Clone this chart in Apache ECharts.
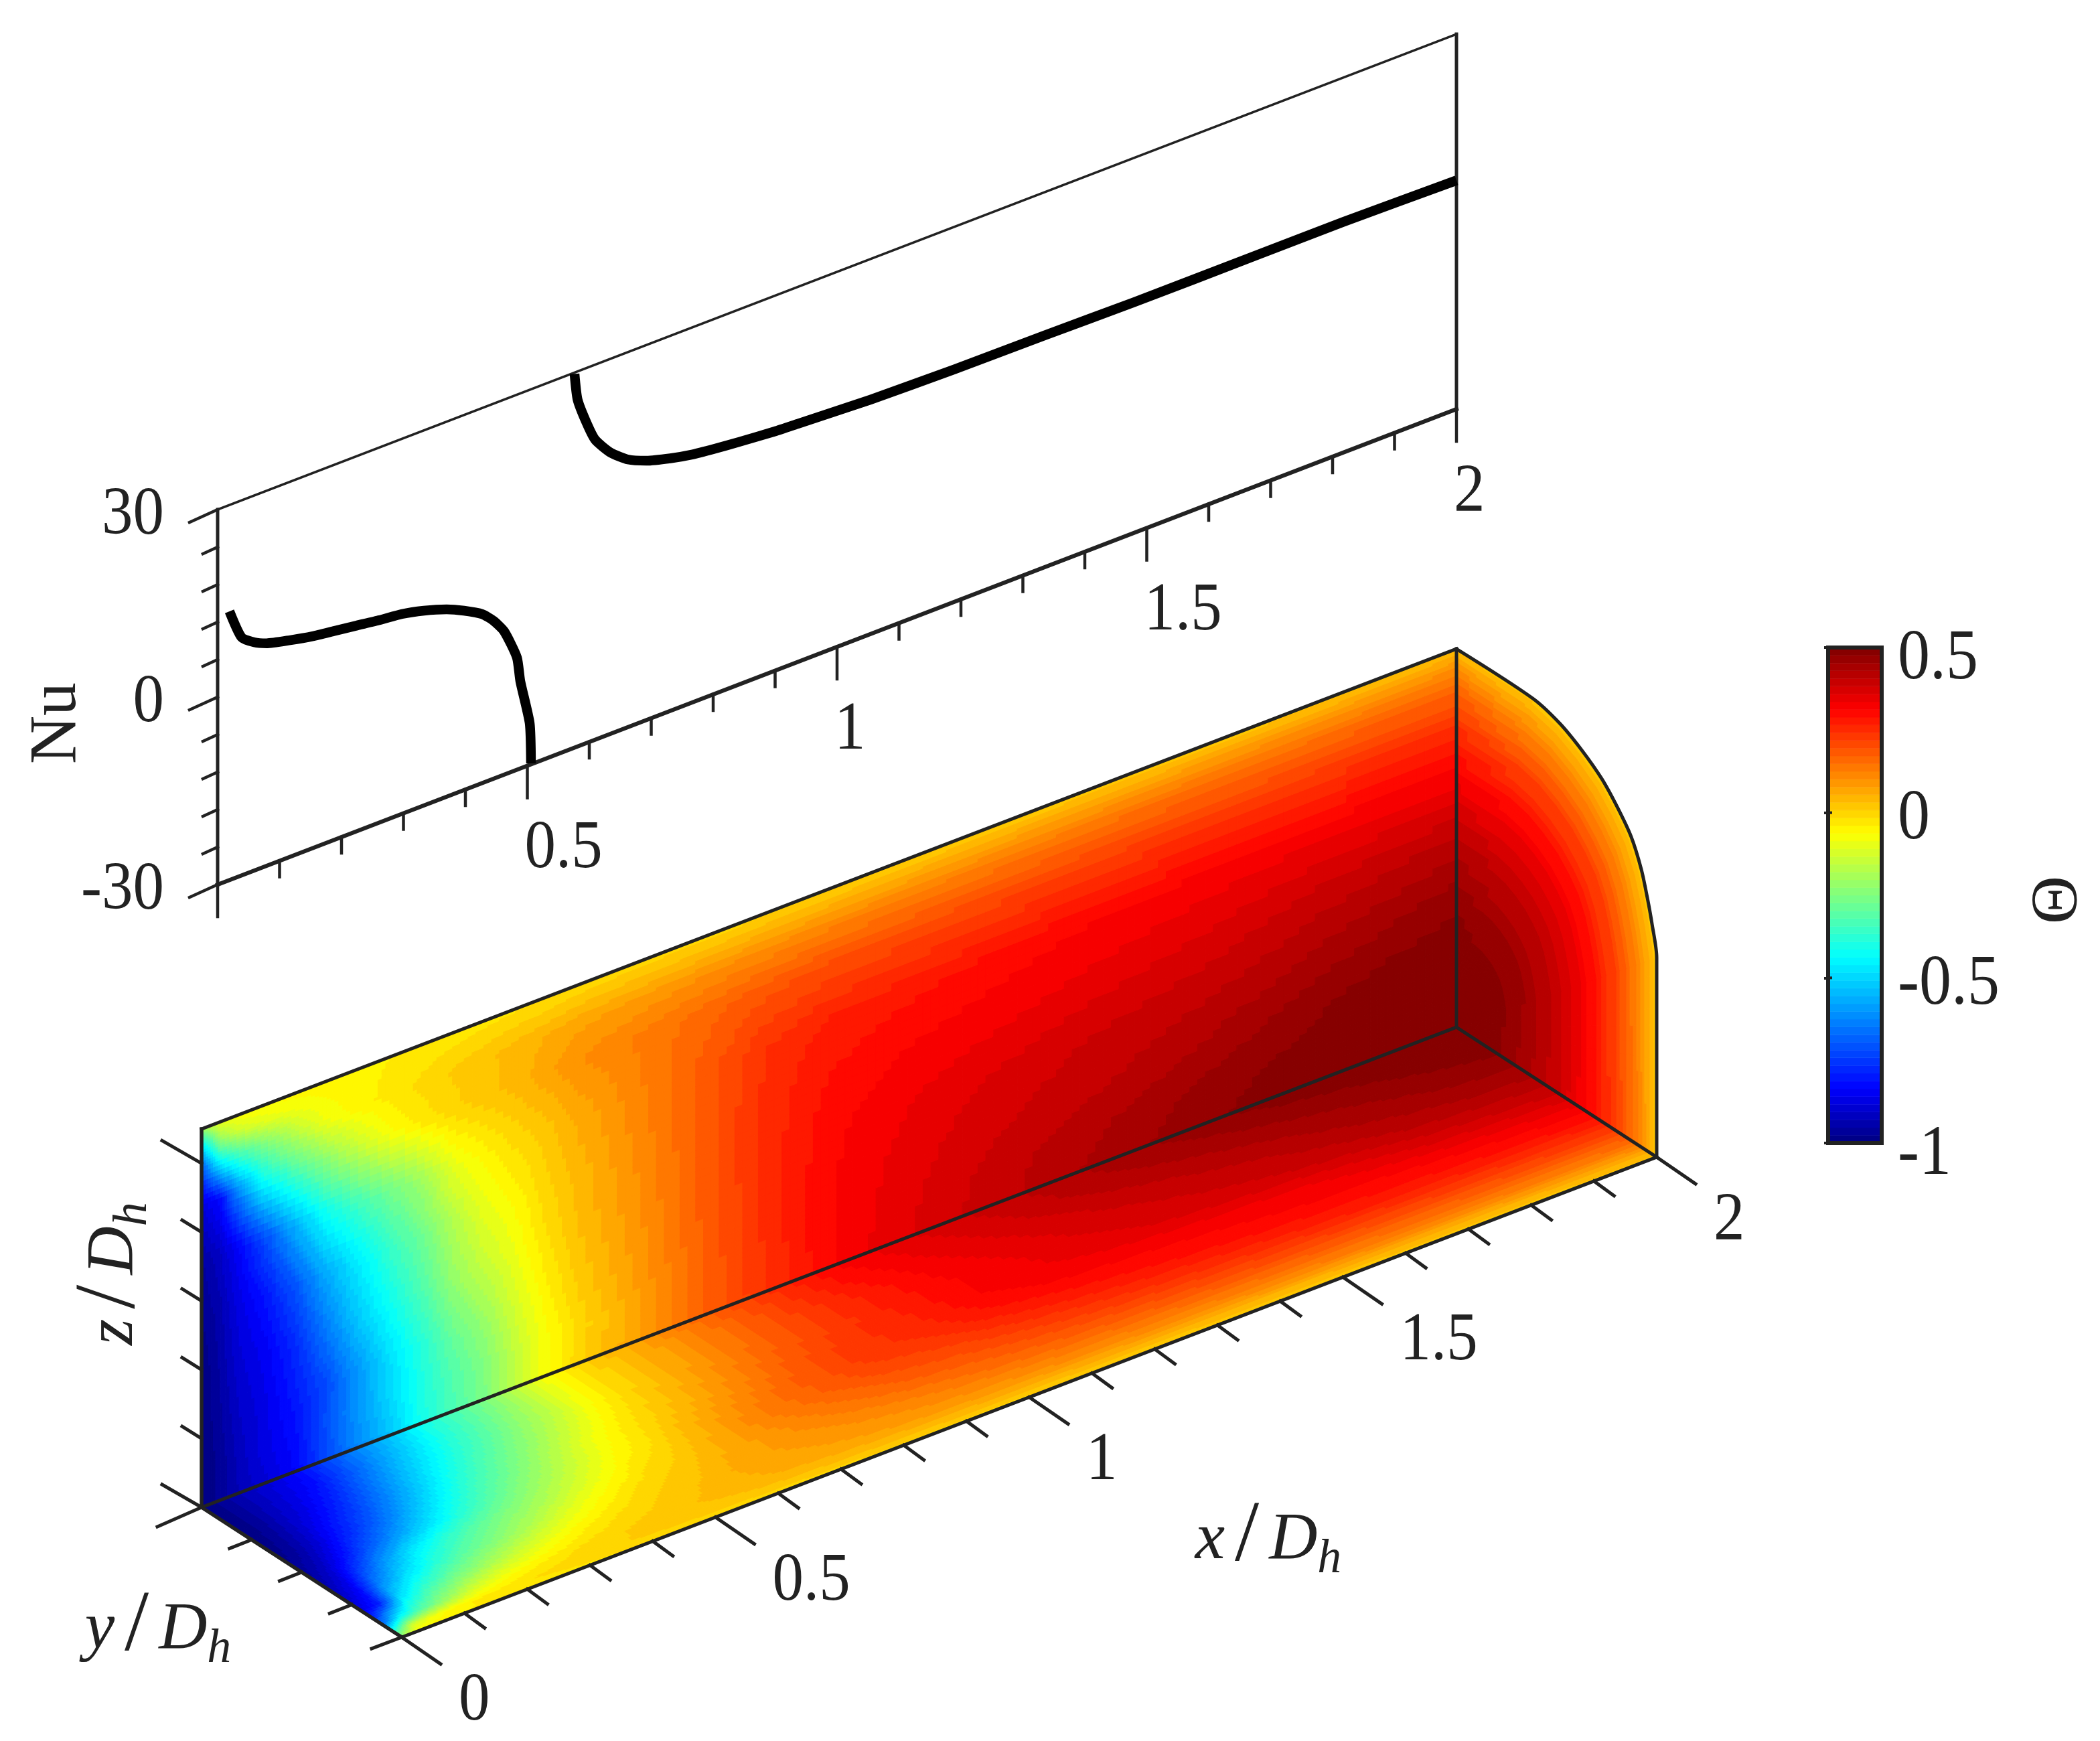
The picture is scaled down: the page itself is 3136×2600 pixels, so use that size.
<!DOCTYPE html>
<html><head><meta charset="utf-8">
<script src="https://cdn.jsdelivr.net/npm/echarts@6/dist/echarts.min.js"></script>
<style>html,body{margin:0;padding:0;background:#fff}#c{width:3136px;height:2600px}</style>
</head><body><div id="c"></div>
<script>
// ---------- data ----------
const nuLeftX=[.0191,.0386,.0595,.0789,.1168,.1535,.1892,.2249,.2616,.2973,.333,.3697,.3978,.427,.4454,.4627,.4832,.4886,.5038,.5059];
const nuLeftV=[12.99,8.1,6.49,5.6,4.66,3.9,3.4,2.9,2.37,1.98,1.16,-.02,-1.31,-2.96,-4.73,-7.1,-12.05,-16.02,-23.35,-29.85];
const nuRightX=[.5762,.5811,.5957,.6097,.6346,.6627,.6919,.7308,.7643,.8032,.8422,.8995,.9384,1.054,1.189,1.334,1.479,1.672,1.817,2];
const nuRightV=[29.8,25.5,21.2,17.96,14.97,12.8,11.5,10.4,9.7,9.2,8.8,8.3,8.1,7.5,7.2,7.1,6.9,6.9,6.9,6.6];

const xColumns=[0,.03,.06,.1,.15,.2,.25,.3,.35,.4,.45,.5,.55,.6,.7,.8,.9,1,1.1,1.2,1.3,1.4,1.5,1.6,1.7,1.8,1.9,2];
const wallRows=[0,.1,.2,.35,.5,.65,.8,.9,.96,1];
const wallField=[
[-1,-.97,-.93,-.89,-.835,-.72,-.62,-.53,-.41,-.33,-.26,-.15,-.07,0,.08,.17,.24,.31,.35,.38,.405,.43,.45,.47,.49,.5,.5,.5],
[-1,-.97,-.92,-.87,-.82,-.71,-.6,-.5,-.4,-.32,-.25,-.15,-.07,-.01,.08,.17,.245,.31,.345,.375,.4,.42,.44,.46,.475,.49,.5,.5],
[-1,-.96,-.91,-.87,-.8,-.72,-.6,-.49,-.39,-.29,-.22,-.13,-.05,.01,.09,.175,.25,.31,.34,.365,.385,.4,.415,.435,.455,.475,.49,.5],
[-1,-.95,-.89,-.85,-.77,-.64,-.52,-.42,-.33,-.22,-.15,-.09,-.02,.03,.1,.18,.25,.305,.33,.35,.365,.38,.39,.4,.415,.435,.45,.465],
[-.98,-.94,-.87,-.81,-.7,-.56,-.46,-.36,-.28,-.18,-.1,-.055,0,.04,.11,.18,.25,.29,.31,.32,.33,.34,.35,.36,.375,.39,.4,.41],
[-.96,-.91,-.84,-.72,-.56,-.42,-.34,-.27,-.2,-.1,-.05,-.01,.02,.06,.12,.18,.24,.27,.28,.29,.3,.31,.315,.32,.325,.33,.33,.33],
[-.88,-.82,-.62,-.43,-.32,-.22,-.14,-.07,-.03,0,.02,.04,.07,.1,.13,.16,.185,.2,.205,.21,.215,.22,.225,.23,.23,.235,.24,.24],
[-.7,-.42,-.33,-.25,-.16,-.08,-.05,-.03,-.01,.01,.025,.04,.055,.07,.085,.1,.11,.12,.125,.13,.135,.14,.145,.15,.15,.155,.16,.16],
[-.45,-.2,-.13,-.1,-.08,-.06,-.05,-.035,-.025,-.015,-.005,.005,.01,.02,.03,.035,.045,.05,.055,.06,.065,.07,.07,.075,.08,.08,.085,.09],
[-.2,-.1,-.07,-.06,-.055,-.05,-.045,-.04,-.035,-.03,-.025,-.02,-.015,-.01,-.005,0,0,.005,.005,.01,.01,.015,.015,.02,.02,.02,.025,.03]
];
const floorRows=[0,.1,.2,.3,.4,.5,.6,.7,.8,.9,.96,1];
const floorField=[
[-1,-.97,-.93,-.89,-.835,-.72,-.62,-.53,-.41,-.33,-.26,-.15,-.07,0,.08,.17,.24,.31,.35,.38,.405,.43,.45,.47,.49,.5,.5,.5],
[-1,-.97,-.93,-.88,-.82,-.71,-.6,-.5,-.4,-.32,-.24,-.16,-.07,-.01,.07,.15,.23,.295,.335,.365,.395,.42,.435,.45,.465,.475,.49,.5],
[-1,-.97,-.92,-.87,-.78,-.67,-.56,-.46,-.37,-.3,-.22,-.15,-.07,-.01,.07,.15,.22,.275,.32,.35,.375,.395,.41,.425,.44,.455,.47,.48],
[-1,-.96,-.91,-.83,-.74,-.63,-.52,-.41,-.33,-.26,-.19,-.12,-.05,0,.08,.16,.22,.27,.31,.335,.36,.375,.39,.4,.42,.435,.45,.455],
[-.99,-.95,-.89,-.79,-.69,-.57,-.46,-.36,-.29,-.22,-.15,-.08,-.03,.01,.09,.17,.23,.26,.31,.33,.345,.36,.37,.38,.39,.41,.42,.425],
[-.97,-.92,-.84,-.72,-.6,-.49,-.39,-.31,-.24,-.18,-.12,-.06,-.02,.03,.11,.18,.23,.25,.29,.31,.315,.32,.325,.33,.35,.37,.38,.39],
[-.95,-.88,-.74,-.6,-.46,-.37,-.3,-.24,-.19,-.13,-.08,-.03,0,.04,.12,.17,.205,.22,.25,.27,.285,.295,.305,.31,.31,.32,.33,.34],
[-.92,-.83,-.63,-.5,-.38,-.3,-.24,-.18,-.12,-.07,-.03,0,.02,.05,.1,.14,.17,.185,.205,.225,.24,.25,.26,.27,.275,.28,.285,.29],
[-.88,-.78,-.5,-.36,-.27,-.2,-.14,-.09,-.05,-.02,0,.02,.035,.06,.085,.105,.125,.145,.16,.17,.18,.19,.195,.2,.205,.21,.215,.22],
[-.7,-.44,-.32,-.22,-.12,-.07,-.04,-.02,0,.01,.02,.03,.04,.05,.065,.075,.085,.09,.1,.105,.11,.115,.12,.125,.125,.13,.13,.135],
[-.4,-.13,-.08,-.05,-.03,-.02,-.01,0,.005,.01,.015,.02,.02,.025,.03,.035,.04,.04,.045,.045,.05,.05,.05,.055,.055,.055,.06,.06],
[-.2,-.06,-.05,-.04,-.035,-.03,-.03,-.025,-.02,-.02,-.015,-.015,-.01,-.01,-.005,0,0,0,.005,.005,.01,.01,.01,.015,.015,.015,.02,.02]
];
// cross-section at x = 2: outline (y, z as fractions of the box), radial fractions, values
const endOutlineY=[1,1,1,.976,.953,.923,.873,.806,.726,.625,.515,.381,.2,0];
const endOutlineZ=[0,.26,.527,.61,.67,.7345,.8025,.8556,.9056,.9475,.9805,1,1,1];
const endRadial=[0,.2,.35,.5,.65,.8,.9,.96,1];
const endField=[
[.5,.48,.44,.39,.315,.22,.135,.06,.02],
[.5,.485,.445,.395,.32,.215,.13,.06,.02],
[.5,.49,.45,.4,.32,.21,.12,.06,.02],
[.5,.49,.45,.4,.32,.21,.12,.06,.02],
[.5,.49,.45,.4,.32,.21,.12,.06,.02],
[.5,.49,.45,.4,.32,.21,.12,.06,.02],
[.5,.49,.45,.4,.32,.21,.12,.06,.02],
[.5,.49,.45,.4,.32,.21,.12,.06,.02],
[.5,.49,.45,.4,.32,.21,.12,.06,.02],
[.5,.49,.45,.4,.32,.21,.12,.06,.02],
[.5,.49,.45,.4,.32,.21,.12,.06,.02],
[.5,.49,.45,.4,.32,.21,.125,.065,.02],
[.5,.495,.46,.405,.325,.225,.14,.075,.025],
[.5,.5,.465,.41,.33,.24,.16,.09,.03]
];
const nuTicks=[-30,-24,-18,-12,-6,0,6,12,18,24,30];
const nuMajor=[-30,0,30];
const topXTicks=[0,.1,.2,.3,.4,.5,.6,.7,.8,.9,1,1.1,1.2,1.3,1.4,1.5,1.6,1.7,1.8,1.9,2];
const xMajor=[0,.5,1,1.5,2];
const xTickLabels=['0','0.5','1','1.5','2'];
const yTicks=[0,.25,.5,.75,1];
const zTicks=[0,.1,.2,.3,.4,.5];
const zMax=.55;
const barTicks=[-1,-.5,0,.5];
const jetStops=[[0,'#00007f'],[.11,'#0000ff'],[.375,'#00ffff'],[.625,'#ffff00'],[.875,'#ff0000'],[1,'#7f0000']];
const thetaMin=-1, thetaMax=.5, levels=64;

// ---------- oblique projections to the page scale of the hidden axes ----------
const pTop=(x,nu)=>[325+925*x, 1321-355*x-(nu+30)*560/60];
const pLow=(x,y,z)=>[301+937*x+299*y, 2251-358.5*x+194*y-565*z];
const INK='#222', FONT='"Liberation Serif"';

function hex(s){return [1,3,5].map(i=>parseInt(s.substr(i,2),16));}
const palette=[];
for(let k=0;k<levels;k++){
  const t=(k+.5)/levels; let i=0;
  while(i<jetStops.length-2&&t>jetStops[i+1][0])i++;
  const a=jetStops[i],b=jetStops[i+1],f=(t-a[0])/(b[0]-a[0]);
  const ca=hex(a[1]),cb=hex(b[1]);
  palette.push('rgb('+ca.map((c,n)=>Math.round(c+(cb[n]-c)*f)).join(',')+')');
}
const jet=v=>palette[Math.max(0,Math.min(levels-1,Math.floor((v-thetaMin)/(thetaMax-thetaMin)*levels)))];

// a face of cells: uAt / vAt are the grid lines, field[v][u] the values, place(u,v) the page point
function faceSeries(uAt,vAt,field,place,sub,z){
  const cells=[];
  for(let j=0;j<vAt.length-1;j++)for(let i=0;i<uAt.length-1;i++)cells.push([i,j]);
  return {type:'custom',coordinateSystem:'cartesian2d',xAxisIndex:0,yAxisIndex:0,silent:true,z,animation:false,clip:false,
    data:cells,
    renderItem(p,api){
      const i=api.value(0),j=api.value(1),children=[];
      const u0=uAt[i],u1=uAt[i+1],v0=vAt[j],v1=vAt[j+1];
      const f00=field[j][i],f10=field[j][i+1],f01=field[j+1][i],f11=field[j+1][i+1];
      for(let a=0;a<sub;a++)for(let b=0;b<sub;b++){
        const s=(a+.5)/sub,t=(b+.5)/sub;
        const val=(f00*(1-s)+f10*s)*(1-t)+(f01*(1-s)+f11*s)*t;
        const c=jet(val);
        const ua=u0+(u1-u0)*a/sub,ub=u0+(u1-u0)*(a+1)/sub,va=v0+(v1-v0)*b/sub,vb=v0+(v1-v0)*(b+1)/sub;
        const pts=[place(ua,va),place(ub,va),place(ub,vb),place(ua,vb)].map(q=>api.coord(q));
        children.push({type:'polygon',shape:{points:pts},style:{fill:c,stroke:c,lineWidth:1.2}});
      }
      return {type:'group',children};
    }};
}

// ---------- frame and tick segments ----------
const segs=[];
const seg=(a,b,w)=>segs.push({a,b,w});
// upper plot
seg(pTop(0,-30),pTop(2,-30),6); seg(pTop(0,30),pTop(2,30),3.5);
seg(pTop(0,-30),pTop(0,30),5); seg(pTop(2,-30),pTop(2,30),5);
nuTicks.forEach(n=>{const m=nuMajor.includes(n),a=pTop(0,n);seg(a,[a[0]-(m?42:22),a[1]+(m?19:10)],4.5);});
topXTicks.forEach(x=>{const m=xMajor.includes(x),a=pTop(x,-30);seg(a,[a[0],a[1]+(m?48:24)],4.5);});
// lower box
const lw=5;
seg(pLow(0,0,0),pLow(0,0,1),5.5); seg(pLow(0,0,0),pLow(2,0,0),lw);
seg(pLow(0,0,1),pLow(2,0,1),lw); seg(pLow(0,1,0),pLow(2,1,0),lw);
seg(pLow(0,0,0),pLow(0,1,0),5.5); seg(pLow(2,0,0),pLow(2,1,0),lw);
seg(pLow(2,0,0),pLow(2,0,1),lw);
topXTicks.forEach(x=>{const m=xMajor.includes(x),a=pLow(x,1,0);seg(a,[a[0]+(m?58:30),a[1]+(m?40:22)],lw);});
yTicks.forEach(y=>{const m=y===0,a=pLow(0,y,0);seg(a,[a[0]-(m?66:(y===1?45:33)),a[1]+(m?29:(y===1?17:13))],lw);});
zTicks.forEach(z=>{const m=z===0||z===.5,a=pLow(0,0,z/zMax);seg(a,[a[0]-(m?59:29),a[1]-(m?34:18)],lw);});

// ---------- text ----------
const texts=[];
const txt=(t,p,o)=>texts.push(Object.assign({t,p},o||{}));
nuMajor.forEach(n=>{const a=pTop(0,n);txt(String(n),[a[0]-80,a[1]+9],{align:'right'});});
xMajor.forEach((x,i)=>{if(!i)return;const a=pTop(x,-30);txt(xTickLabels[i],[a[0]-4,a[1]+125],{align:'left'});});
xMajor.forEach((x,i)=>{const a=pLow(x,1,0);txt(xTickLabels[i],[a[0]+85,a[1]+96],{align:'left'});});
txt('Nu',[86,1080],{rot:Math.PI/2,align:'center',scale:1,size:100});
txt('\u0398',[3062,1344],{rot:-Math.PI/2,align:'center',scale:1,size:100});
const baseRich={fontFamily:FONT,fill:INK,verticalAlign:'top'};
const mathRich={a:Object.assign({},baseRich,{fontStyle:'italic',fontSize:100,padding:[20,0,0,0]}),
  b:Object.assign({},baseRich,{fontSize:130,padding:[0,15,0,15]}),
  c:Object.assign({},baseRich,{fontStyle:'italic',fontSize:72,padding:[62,0,0,0]})};
const math=v=>'{a|'+v+'}{b|/}{a|D}{c|h}';
txt(math('x'),[1894,2298],{rich:true,align:'center'});
txt(math('y'),[236,2432],{rich:true,align:'center'});
txt(math('z'),[168,1902],{rich:true,align:'center',rot:Math.PI/2});

// ---------- chart ----------
const levelRows=palette.map((_,k)=>[k]);
const chart=echarts.init(document.getElementById('c'),null,{renderer:'canvas',devicePixelRatio:1,width:3136,height:2600});
const curve=(xs,vs)=>({type:'line',xAxisIndex:0,yAxisIndex:0,silent:true,symbol:'none',z:12,animation:false,smooth:.2,
  lineStyle:{color:'#000',width:14.5,join:'round',cap:'butt'},data:xs.map((x,i)=>pTop(x,vs[i]))});
const edgeRows=endOutlineY.map((y,i)=>pLow(2,y,endOutlineZ[i])).slice(2,12);
chart.setOption({
  animation:false,backgroundColor:'#fff',tooltip:{show:false},
  grid:[{left:0,top:0,width:3136,height:2600,show:false},
        {left:2730,top:967,width:80,height:740,show:false}],
  xAxis:[{type:'value',gridIndex:0,min:0,max:3136,show:false},
         {type:'value',gridIndex:1,min:0,max:1,show:false}],
  yAxis:[{type:'value',gridIndex:0,min:0,max:2600,inverse:true,show:false},
         {type:'value',gridIndex:1,min:thetaMin,max:thetaMax,interval:.5,position:'right',z:30,
          splitLine:{show:false},axisLine:{show:false},
          axisTick:{show:true,inside:true,length:6,lineStyle:{color:INK,width:4}},
          axisLabel:{show:false}}],
  series:[
    faceSeries(xColumns,wallRows,wallField,(x,z)=>pLow(x,0,z),8,2),
    faceSeries(xColumns,floorRows,floorField,(x,y)=>pLow(x,y,0),8,3),
    faceSeries(endRadial,endOutlineY.map((_,i)=>i),endField,(s,i)=>{
      const k=Math.min(Math.floor(i),endOutlineY.length-2),f=i-k;
      const y=endOutlineY[k]+(endOutlineY[k+1]-endOutlineY[k])*f, z=endOutlineZ[k]+(endOutlineZ[k+1]-endOutlineZ[k])*f;
      return pLow(2,y*s,z*s);},6,4),
    curve(nuLeftX,nuLeftV),curve(nuRightX,nuRightV),
    {type:'line',xAxisIndex:0,yAxisIndex:0,silent:true,symbol:'none',z:10,animation:false,smooth:.3,
      lineStyle:{color:INK,width:lw,cap:'round'},
      data:[pLow(2,1,0)].concat(edgeRows,[pLow(2,0,1)])},
    {type:'custom',coordinateSystem:'cartesian2d',xAxisIndex:0,yAxisIndex:0,silent:true,z:10,animation:false,clip:false,
      data:segs.map((_,i)=>[i,0]),
      renderItem(p,api){const s=segs[api.value(0)],a=api.coord(s.a),b=api.coord(s.b);
        return {type:'line',shape:{x1:a[0],y1:a[1],x2:b[0],y2:b[1]},style:{stroke:INK,lineWidth:s.w,lineCap:'square'}};}},
    {type:'custom',coordinateSystem:'cartesian2d',xAxisIndex:0,yAxisIndex:0,silent:true,z:20,animation:false,clip:false,
      data:texts.map((_,i)=>[i,0]),
      renderItem(p,api){const s=texts[api.value(0)],a=api.coord(s.p);
        return {type:'text',x:a[0],y:a[1],rotation:s.rot||0,scaleY:s.rich?1:(s.scale||1.1),
          style:s.rich?{x:0,y:0,text:s.t,rich:mathRich,align:s.align,verticalAlign:'middle'}
            :{x:0,y:0,text:s.t,fill:INK,font:(s.size||93)+'px '+FONT,align:s.align,verticalAlign:'middle'}};}},
    // colour bar
    {type:'custom',coordinateSystem:'cartesian2d',xAxisIndex:1,yAxisIndex:1,silent:true,z:5,animation:false,
      data:levelRows,
      renderItem(p,api){const k=api.value(0),d=(thetaMax-thetaMin)/levels,v=thetaMin+k*d;
        const a=api.coord([0,v+d]),b=api.coord([1,v]);
        return {type:'rect',shape:{x:a[0],y:a[1],width:b[0]-a[0],height:b[1]-a[1]},style:{fill:palette[k],stroke:palette[k],lineWidth:.6}};}},
    {type:'custom',coordinateSystem:'cartesian2d',xAxisIndex:1,yAxisIndex:1,silent:true,z:6,animation:false,
      data:[[0]],
      renderItem(p,api){const a=api.coord([0,thetaMax]),b=api.coord([1,thetaMin]);
        const ticks=[-.5,0].map(v=>{const q=api.coord([0,v]);
          return {type:'line',shape:{x1:q[0],y1:q[1],x2:q[0]+6,y2:q[1]},style:{stroke:INK,lineWidth:4}};});
        return {type:'group',children:[{type:'rect',shape:{x:a[0],y:a[1],width:b[0]-a[0],height:b[1]-a[1]},style:{fill:'none',stroke:INK,lineWidth:6}}].concat(ticks)};}},
    {type:'custom',coordinateSystem:'cartesian2d',xAxisIndex:1,yAxisIndex:1,silent:true,z:20,animation:false,clip:false,
      data:barTicks.map(v=>[1,v]),
      renderItem(p,api){const v=api.value(1),q=api.coord([1,v]),end=v===thetaMin||v===thetaMax;
        return {type:'text',x:q[0]+24,y:q[1]+(end?18:11),scaleY:1.1,
          style:{x:0,y:0,text:String(v),fill:INK,font:'96px '+FONT,align:'left',verticalAlign:'middle'}};}}
  ]
});
</script></body></html>
